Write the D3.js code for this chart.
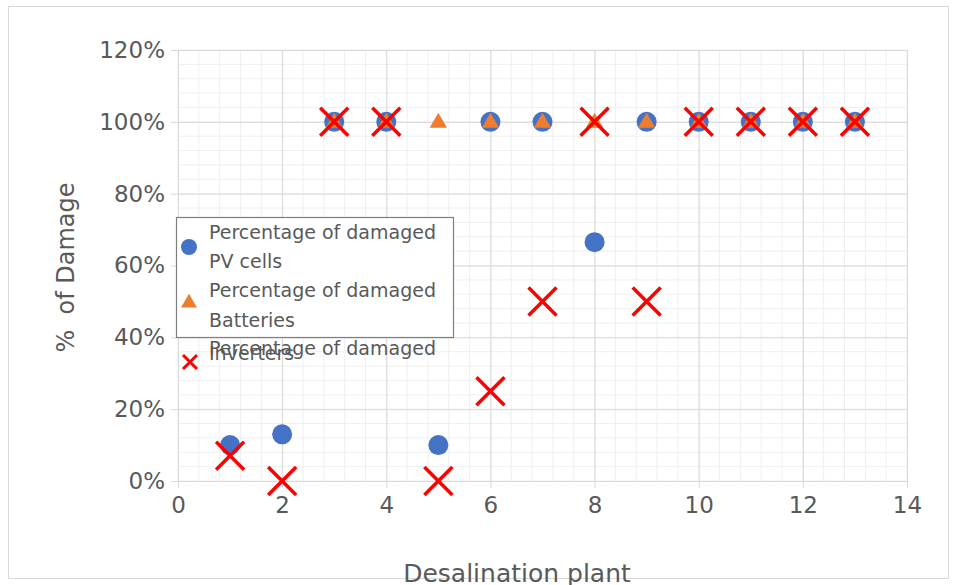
<!DOCTYPE html>
<html>
<head>
<meta charset="utf-8">
<script src="https://cdn.jsdelivr.net/npm/d3@7"></script>
<style>
  body { margin: 0; background: #fff; }
  text { font-family: "DejaVu Sans", "Open Sans", sans-serif; fill: #595959; }
</style>
</head>
<body>
<div id="chart"></div>
<script>
// data
const plants = [1, 2, 3, 4, 5, 6, 7, 8, 9, 10, 11, 12, 13];
const pvCells = [0.10, 0.13, 1, 1, 0.10, 1, 1, 0.665, 1, 1, 1, 1, 1];
const batteries = [null, null, 1, 1, 1, 1, 1, 1, 1, 1, 1, 1, 1];
const inverters = [0.07, 0, 1, 1, 0, 0.25, 0.5, 1, 0.5, 1, 1, 1, 1];
const xTicks = [0, 2, 4, 6, 8, 10, 12, 14];
const yTicks = [0, 0.2, 0.4, 0.6, 0.8, 1.0, 1.2];
const seriesNames = [
  ["Percentage of damaged", "PV cells"],
  ["Percentage of damaged", "Batteries"],
  ["Percentage of damaged", "Inverters"],
];

const dimensions = {
  width: 954,
  height: 585,
  marginLeft: 178,
  marginRight: 47,
  marginTop: 50,
  marginBottom: 104,
};
dimensions.boundedWidth = dimensions.width - dimensions.marginLeft - dimensions.marginRight;
dimensions.boundedHeight = dimensions.height - dimensions.marginTop - dimensions.marginBottom;

const wrapper = d3.select("#chart")
  .append("svg")
    .attr("width", dimensions.width)
    .attr("height", dimensions.height);

// chart border
wrapper.append("rect")
  .attr("x", 8.5).attr("y", 6.5)
  .attr("width", 940).attr("height", 572)
  .attr("fill", "none")
  .attr("stroke", "#d9d9d9");

const bounds = wrapper.append("g")
  .attr("transform", `translate(${dimensions.marginLeft}, ${dimensions.marginTop})`);

// scales
const xScale = d3.scaleLinear()
  .domain([0, 14])
  .range([0, dimensions.boundedWidth]);

const yScale = d3.scaleLinear()
  .domain([0, 1.2])
  .range([dimensions.boundedHeight, 0]);

// minor gridlines
bounds.append("g")
  .selectAll("line")
  .data(d3.range(0, 14.01, 0.4))
  .join("line")
    .attr("x1", d => xScale(d)).attr("x2", d => xScale(d))
    .attr("y1", 0).attr("y2", dimensions.boundedHeight)
    .attr("stroke", "#efefef");

bounds.append("g")
  .selectAll("line")
  .data(d3.range(0, 1.2001, 0.04))
  .join("line")
    .attr("y1", d => yScale(d)).attr("y2", d => yScale(d))
    .attr("x1", 0).attr("x2", dimensions.boundedWidth)
    .attr("stroke", "#efefef");

// major gridlines
bounds.append("g")
  .attr("class", "grid")
  .attr("transform", `translate(0, ${dimensions.boundedHeight})`)
  .call(d3.axisBottom(xScale).tickValues(xTicks).tickSize(-dimensions.boundedHeight).tickFormat(() => ""))
  .call(g => g.select(".domain").remove())
  .call(g => g.selectAll("line").attr("stroke", "#d9d9d9"));

bounds.append("g")
  .attr("class", "grid")
  .call(d3.axisLeft(yScale).tickValues(yTicks).tickSize(-dimensions.boundedWidth).tickFormat(() => ""))
  .call(g => g.select(".domain").remove())
  .call(g => g.selectAll("line").attr("stroke", "#d9d9d9"));

// axes
const xAxis = bounds.append("g")
  .attr("transform", `translate(0, ${dimensions.boundedHeight})`)
  .call(d3.axisBottom(xScale).tickValues(xTicks).tickSize(7).tickSizeOuter(0).tickPadding(9))
  .call(g => g.select(".domain").attr("stroke", "#d9d9d9"))
  .call(g => g.selectAll(".tick line").attr("stroke", "#d9d9d9"))
  .call(g => g.selectAll("text").style("font-size", "23px").attr("fill", "#595959"));

const yAxis = bounds.append("g")
  .call(d3.axisLeft(yScale).tickValues(yTicks).tickSize(7).tickSizeOuter(0).tickPadding(6).tickFormat(d3.format(".0%")))
  .call(g => g.select(".domain").attr("stroke", "#d9d9d9"))
  .call(g => g.selectAll(".tick line").attr("stroke", "#d9d9d9"))
  .call(g => g.selectAll("text").style("font-size", "23px").attr("fill", "#595959"));

// axis titles
wrapper.append("text")
  .attr("transform", `translate(74, ${dimensions.marginTop + dimensions.boundedHeight / 2 + 2}) rotate(-90)`)
  .attr("text-anchor", "middle")
  .style("font-size", "24px")
  .style("white-space", "pre")
  .text("%  of Damage");

wrapper.append("text")
  .attr("x", 517)
  .attr("y", 582)
  .attr("text-anchor", "middle")
  .style("font-size", "25px")
  .text("Desalination plant");

// markers
const points = (values) => plants.map((p, i) => ({x: p, y: values[i]})).filter(d => d.y !== null);

const symbolPath = (type, size) => d3.symbol().type(type).size(size)();

bounds.append("g")
  .selectAll("circle")
  .data(points(pvCells))
  .join("circle")
    .attr("cx", d => xScale(d.x))
    .attr("cy", d => yScale(d.y))
    .attr("r", 10)
    .attr("fill", "#4472C4");

bounds.append("g")
  .selectAll("path")
  .data(points(batteries))
  .join("path")
    .attr("transform", d => `translate(${xScale(d.x)}, ${yScale(d.y) + 1})`)
    .attr("d", symbolPath(d3.symbolTriangle, 130))
    .attr("fill", "#ED7D31");

const crossPath = (s) => `M${-s},${-s}L${s},${s}M${s},${-s}L${-s},${s}`;

bounds.append("g")
  .selectAll("path")
  .data(points(inverters))
  .join("path")
    .attr("transform", d => `translate(${xScale(d.x)}, ${yScale(d.y)})`)
    .attr("d", crossPath(14))
    .attr("stroke", "#FF0000")
    .attr("stroke-width", 3.5)
    .attr("fill", "none");

// legend
const legend = wrapper.append("g");

legend.append("rect")
  .attr("x", 176.5).attr("y", 217.5)
  .attr("width", 277).attr("height", 120)
  .attr("fill", "#fff")
  .attr("stroke", "#7f7f7f")
  .attr("stroke-width", 1.2);

const legendRows = [
  {y: 247, baselines: [239, 268]},
  {y: 303, baselines: [297, 327]},
  {y: 362, baselines: [355, 360]},
];

legend.append("circle")
  .attr("cx", 189).attr("cy", legendRows[0].y)
  .attr("r", 8).attr("fill", "#4472C4");

legend.append("path")
  .attr("transform", `translate(189, ${legendRows[1].y})`)
  .attr("d", symbolPath(d3.symbolTriangle, 110))
  .attr("fill", "#ED7D31");

legend.append("path")
  .attr("transform", `translate(190, ${legendRows[2].y})`)
  .attr("d", crossPath(7))
  .attr("stroke", "#FF0000")
  .attr("stroke-width", 3)
  .attr("fill", "none");

legendRows.forEach((row, i) => {
  seriesNames[i].forEach((line, j) => {
    legend.append("text")
      .attr("x", 209)
      .attr("y", row.baselines[j])
      .style("font-size", "19px")
      .attr("fill", "#595959")
      .text(line);
  });
});
</script>
</body>
</html>
